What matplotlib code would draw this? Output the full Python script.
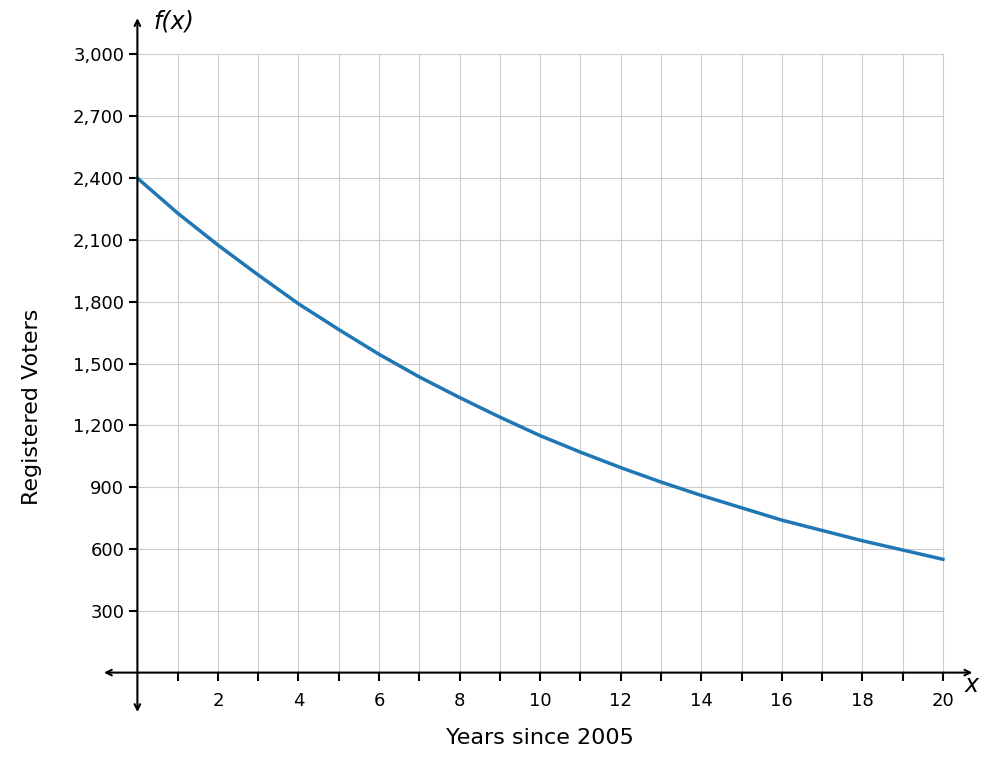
import matplotlib.pyplot as plt

years = list(range(21))
voters = [2400, 2230, 2075, 1930, 1790, 1665, 1545, 1435, 1335, 1240, 1150,
          1070, 995, 925, 860, 800, 740, 690, 640, 595, 550]
x_ticks = [2, 4, 6, 8, 10, 12, 14, 16, 18, 20]
y_ticks = [300, 600, 900, 1200, 1500, 1800, 2100, 2400, 2700, 3000]

fig = plt.figure(figsize=(9.82, 7.67), dpi=100)
ax = fig.add_axes([0.103, 0.068, 0.89, 0.912])
ax.set_xlim(-0.9, 20.8)
ax.set_ylim(-205, 3190)

# grid limited to the first quadrant
for gx in range(1, 21):
    ax.plot([gx, gx], [0, 3000], color="#cccccc", lw=0.8, zorder=0)
for gy in y_ticks:
    ax.plot([0, 20], [gy, gy], color="#cccccc", lw=0.8, zorder=0)

ax.plot(years, voters, color="#1f77b4", lw=2.5, zorder=3)

for s in ["top", "right"]:
    ax.spines[s].set_visible(False)
ax.spines["left"].set_position(("data", 0))
ax.spines["bottom"].set_position(("data", 0))
ax.spines["left"].set_visible(False)
ax.spines["bottom"].set_visible(False)
ax.annotate("", xy=(20.8, 0), xytext=(-0.9, 0),
            arrowprops=dict(arrowstyle="<->", lw=1.5, color="black"))
ax.annotate("", xy=(0, 3190), xytext=(0, -205),
            arrowprops=dict(arrowstyle="<->", lw=1.5, color="black"))

ax.set_xticks(x_ticks)
ax.set_xticks(range(1, 21, 2), minor=True)
ax.set_yticks(y_ticks)
ax.set_yticklabels([f"{v:,}" for v in y_ticks])
ax.tick_params(axis="x", direction="out", length=6, width=1.5, labelsize=13, pad=8)
ax.tick_params(axis="x", which="minor", direction="out", length=6, width=1.5)
ax.tick_params(axis="y", direction="out", length=6, width=1.5, labelsize=13)

ax.text(0.4, 3160, "f(x)", fontsize=17, style="italic", va="center")
ax.text(20.55, -60, "x", fontsize=17, style="italic", va="center")
fig.text(0.55, 0.03, "Years since 2005", fontsize=16, ha="center")
fig.text(0.022, 0.47, "Registered Voters", fontsize=16, rotation=90, va="center")

fig.savefig("out.png")
